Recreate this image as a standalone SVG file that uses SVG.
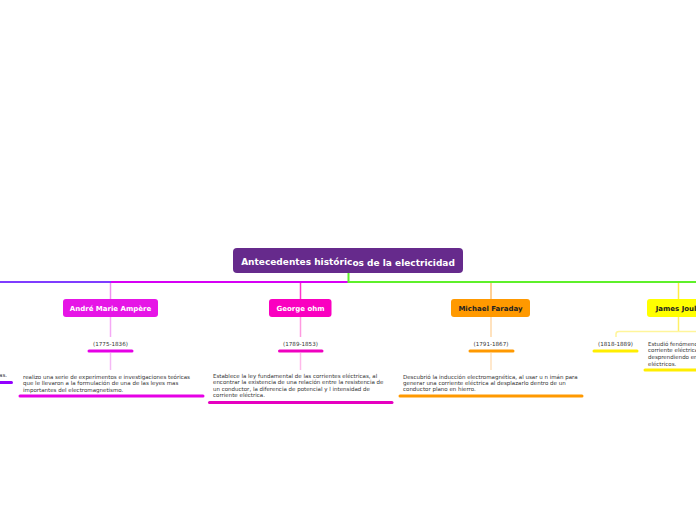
<svg xmlns="http://www.w3.org/2000/svg" width="696" height="520" viewBox="0 0 696 520">
<style>
.title{font-family:"DejaVu Sans",sans-serif;font-weight:bold;text-anchor:middle}
.date{font-family:"DejaVu Sans",sans-serif;font-size:5.6px;fill:#333;text-anchor:middle}
.desc{font-family:"DejaVu Sans",sans-serif;font-size:5.5px;fill:#333}
.ul{stroke-width:3;stroke-linecap:round;fill:none}
.cn{fill:none;stroke-width:1.5}
</style>
<rect width="696" height="520" fill="#fff"/>
<g id="connectors">
<line x1="0" y1="282" x2="111" y2="282" stroke="#7f3cff" stroke-width="2"/>
<line x1="111" y1="282" x2="349" y2="282" stroke="#d600f5" stroke-width="2"/>
<path d="M348.5 273 V282 H696" stroke="#5ef02a" stroke-width="2" fill="none"/>
<line class="cn" x1="110.5" y1="283" x2="110.5" y2="299" stroke="#f090f0"/>
<line class="cn" x1="300.5" y1="283" x2="300.5" y2="299" stroke="#ff33cc"/>
<line class="cn" x1="491" y1="283" x2="491" y2="299" stroke="#ffc070"/>
<line class="cn" x1="678.5" y1="283" x2="678.5" y2="299" stroke="#ffee44"/>
<line class="cn" x1="110.5" y1="317" x2="110.5" y2="337" stroke="#f5a8f5"/>
<line class="cn" x1="300.5" y1="317" x2="300.5" y2="337" stroke="#ff99e0"/>
<line class="cn" x1="491" y1="317" x2="491" y2="337" stroke="#ffd8a8"/>
<line class="cn" x1="110.5" y1="353" x2="110.5" y2="370" stroke="#f5b8f5"/>
<line class="cn" x1="300.5" y1="353" x2="300.5" y2="370" stroke="#ffb8ea"/>
<line class="cn" x1="491" y1="353" x2="491" y2="370" stroke="#ffe0bb"/>
<path class="cn" d="M678.5 317 V331" stroke="#fff066"/>
<path class="cn" d="M616 337 V334 Q616 331.5 619 331.5 H696" stroke="#fff59a"/>
</g>
<g id="center">
<rect x="233" y="248" width="230" height="25" rx="4" fill="#662a8c"/>
<text class="title" x="348" y="264.5" font-size="9" fill="#fff">Antecedentes históric<tspan dy="1">os de la electricidad</tspan></text>
</g>
<g id="left-partial">
<text class="desc" x="7" y="377" text-anchor="end">as.</text>
<line class="ul" x1="0" y1="382.5" x2="11.5" y2="382.5" stroke="#9400ff"/>
</g>
<g id="ampere">
<rect x="63" y="299" width="95" height="18" rx="3" fill="#e615e6"/>
<text class="title" x="110.5" y="310.5" font-size="7" fill="#fff">André Marie Ampère</text>
</g>
<g id="ampere-date">
<text class="date" x="110.5" y="345.5">(1775-1836)</text>
<line class="ul" x1="89" y1="351" x2="132" y2="351" stroke="#e600e6"/>
</g>
<g id="ampere-desc">
<text class="desc" x="23" y="378.5">realizo una serie de experimentos e investigaciones teóricas</text>
<text class="desc" x="23" y="385">que le llevaron a la formulación de una de las leyes mas</text>
<text class="desc" x="23" y="391.5">importantes del electromagnetismo.</text>
<line class="ul" x1="20" y1="396" x2="203" y2="396" stroke="#e600e6"/>
</g>
<g id="ohm">
<rect x="269" y="299" width="62.5" height="18" rx="3" fill="#fa00c0"/>
<text class="title" x="300.5" y="310.5" font-size="7" fill="#fff">George ohm</text>
</g>
<g id="ohm-date">
<text class="date" x="300.5" y="345.5">(1789-1853)</text>
<line class="ul" x1="279.5" y1="351" x2="322" y2="351" stroke="#f000c0"/>
</g>
<g id="ohm-desc">
<text class="desc" x="213" y="377.5">Establece la ley fundamental de las corrientes eléctricas, al</text>
<text class="desc" x="213" y="383.5">encontrar la existencia de una relación entre la re<tspan dy="0.8">sistencia de</tspan></text>
<text class="desc" x="213" y="390.5">un conductor, la diferencia de potencial y l intensidad de</text>
<text class="desc" x="213" y="397">corriente eléctrica.</text>
<line class="ul" x1="209.5" y1="402.5" x2="392" y2="402.5" stroke="#e600c0"/>
</g>
<g id="faraday">
<rect x="451" y="299" width="79" height="18" rx="3" fill="#ff9900"/>
<text class="title" x="490.5" y="310.5" font-size="7" fill="#222">Michael Faraday</text>
</g>
<g id="faraday-date">
<text class="date" x="491" y="345.5">(1791-1867)</text>
<line class="ul" x1="470" y1="351" x2="513" y2="351" stroke="#ff9900"/>
</g>
<g id="faraday-desc">
<text class="desc" x="403" y="378.5">Descubrió la inducción electromagnética, al usar u n imán para</text>
<text class="desc" x="403" y="385">generar una corriente eléctrica al desplazarlo dentro de un</text>
<text class="desc" x="403" y="391">conductor plano en hierro.</text>
<line class="ul" x1="400" y1="396" x2="582" y2="396" stroke="#ff9900"/>
</g>
<g id="joule">
<rect x="647" y="299" width="63" height="18" rx="3" fill="#ffff00"/>
<text class="title" x="678.5" y="310.5" font-size="7" fill="#222">James Joule</text>
</g>
<g id="joule-date">
<text class="date" x="615.5" y="345.5">(1818-1889)</text>
<line class="ul" x1="594" y1="351" x2="637" y2="351" stroke="#ffee00"/>
</g>
<g id="joule-desc">
<text class="desc" x="648" y="345.5">Estudió fenómenos</text>
<text class="desc" x="648" y="352">corriente eléctrica</text>
<text class="desc" x="648" y="358.5">desprendiendo en</text>
<text class="desc" x="648" y="365.5">eléctricos.</text>
<line class="ul" x1="645" y1="370" x2="700" y2="370" stroke="#ffee00"/>
</g>
</svg>
